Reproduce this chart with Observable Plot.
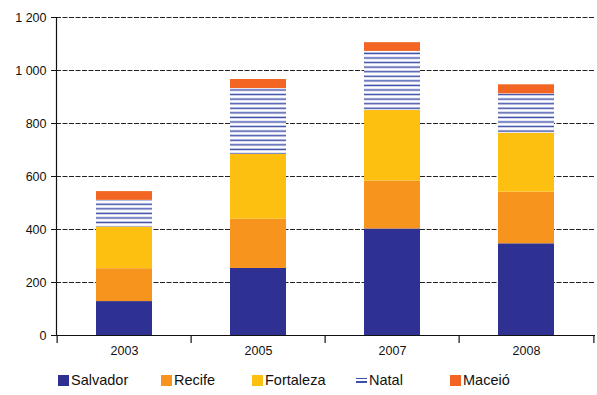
<!DOCTYPE html>
<html>
<head>
<meta charset="utf-8">
<script src="https://cdn.jsdelivr.net/npm/d3@7"></script>
<script src="https://cdn.jsdelivr.net/npm/@observablehq/plot@0.6"></script>
<style>
  html, body { margin: 0; padding: 0; background: #fff; }
  #wrap { width: 597px; font-family: "Liberation Sans", Arial, sans-serif; }
  #legend { position: relative; height: 30px; font-size: 14.5px; color: #111; }
  .item { position: absolute; top: 7px; display: flex; align-items: center; line-height: 16px; }
  .sw { width: 11px; height: 11px; margin-right: 2px; }
</style>
</head>
<body>
<div id="wrap">
  <div id="chart"></div>
  <div id="legend"></div>
</div>
<script>
const years = ["2003", "2005", "2007", "2008"];
const cities = ["Salvador", "Recife", "Fortaleza", "Natal", "Maceió"];
const salvador = [128, 253, 402, 346];
const recife = [124, 186, 181, 195];
const fortaleza = [157, 244, 266, 222];
const natal = [101, 249, 223, 149];
const maceio = [33, 34, 33, 34];
const yTicks = [0, 200, 400, 600, 800, 1000, 1200];

const colors = ["#2e3192", "#f7941d", "#fdc010", "url(#natalPattern)", "#f26522"];
const series = [salvador, recife, fortaleza, natal, maceio];
const data = [];
cities.forEach((c, i) => years.forEach((y, j) => data.push({year: y, city: c, value: series[i][j]})));

const W = 597, H = 365, ML = 56, MR = 2;
const step = (W - ML - MR) / years.length;
const fmt = d3.formatLocale({thousands: " ", grouping: [3], decimal: ","}).format(",");

const chart = Plot.plot({
  width: W, height: H,
  marginLeft: ML, marginRight: MR, marginTop: 17, marginBottom: 30,
  style: {fontFamily: "'Liberation Sans', Arial, sans-serif", fontSize: "12.5px", color: "#111", background: "#fff"},
  x: {domain: years, paddingInner: 0.58, paddingOuter: 0.29, label: null},
  y: {domain: [0, 1200], label: null},
  color: {domain: cities, range: colors},
  marks: [
    Plot.gridY(yTicks.filter(d => d > 0), {stroke: "#222", strokeOpacity: 1, strokeDasharray: "5,1.5"}),
    Plot.barY(data, {x: "year", y: "value", fill: "city", order: cities}),
    Plot.ruleY([0], {stroke: "#111", strokeWidth: 1.2}),
    Plot.frame({anchor: "left", stroke: "#111", strokeWidth: 1.2}),
    Plot.ruleX(years, {x: d => d, y1: 0, y2: -30, dx: -step / 2, stroke: "#111", strokeWidth: 1.2}),
    Plot.ruleX(years.slice(-1), {x: d => d, y1: 0, y2: -30, dx: step / 2, stroke: "#111", strokeWidth: 1.2}),
    Plot.axisY({ticks: yTicks, tickSize: 5, tickPadding: 5, tickFormat: fmt, stroke: "#111"}),
    Plot.axisX({tickSize: 0, tickPadding: 11})
  ]
});

// pattern for Natal
const ns = "http://www.w3.org/2000/svg";
const svg = chart.tagName.toLowerCase() === "svg" ? chart : chart.querySelector("svg");
const defs = document.createElementNS(ns, "defs");
const pat = document.createElementNS(ns, "pattern");
pat.setAttribute("id", "natalPattern");
pat.setAttribute("patternUnits", "userSpaceOnUse");
pat.setAttribute("width", "10");
pat.setAttribute("height", "4.57");
const bg = document.createElementNS(ns, "rect");
bg.setAttribute("width", "10"); bg.setAttribute("height", "4.57"); bg.setAttribute("fill", "#fff");
const ln = document.createElementNS(ns, "rect");
ln.setAttribute("y", "2.4"); ln.setAttribute("width", "10"); ln.setAttribute("height", "1.5"); ln.setAttribute("fill", "#3d4ea8");
pat.appendChild(bg); pat.appendChild(ln); defs.appendChild(pat);
svg.insertBefore(defs, svg.firstChild);

document.getElementById("chart").appendChild(chart);

// legend
const lefts = [58, 161, 252, 356, 450];
const leg = document.getElementById("legend");
cities.forEach((c, i) => {
  const it = document.createElement("div");
  it.className = "item";
  it.style.left = lefts[i] + "px";
  const sw = document.createElement("div");
  sw.className = "sw";
  if (c === "Natal") {
    sw.style.background = "linear-gradient(#fff 0 3px, #3d4ea8 3px 4.5px, #fff 4.5px 6.5px, #3d4ea8 6.5px 8px, #fff 8px)";
  } else {
    sw.style.background = colors[i];
  }
  const tx = document.createElement("span");
  tx.textContent = c;
  it.appendChild(sw); it.appendChild(tx);
  leg.appendChild(it);
});
</script>
</body>
</html>
